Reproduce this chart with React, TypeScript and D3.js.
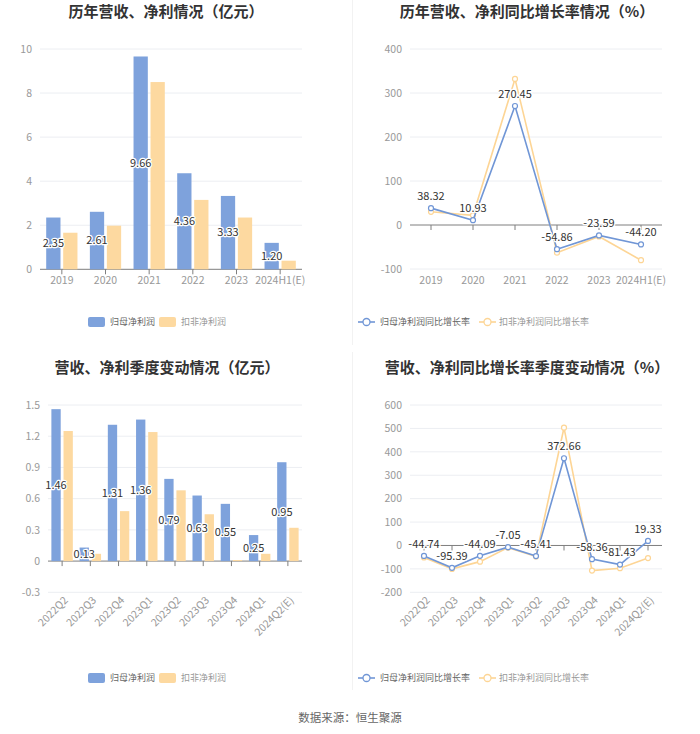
import React from "react";
import * as d3 from "d3";

const years = ["2019", "2020", "2021", "2022", "2023", "2024H1(E)"];
const yearParent = [2.35, 2.61, 9.66, 4.36, 3.33, 1.2];
const yearDeducted = [1.66, 1.98, 8.5, 3.15, 2.35, 0.39];
const yearParentGrowth = [38.32, 10.93, 270.45, -54.86, -23.59, -44.2];
const yearDeductedGrowth = [30, 22, 332, -63, -26, -80];

const quarters = ["2022Q2", "2022Q3", "2022Q4", "2023Q1", "2023Q2", "2023Q3", "2023Q4", "2024Q1", "2024Q2(E)"];
const qParent = [1.46, 0.13, 1.31, 1.36, 0.79, 0.63, 0.55, 0.25, 0.95];
const qDeducted = [1.25, 0.07, 0.48, 1.24, 0.68, 0.45, 0.01, 0.07, 0.32];
const qParentGrowth = [-44.74, -95.39, -44.09, -7.05, -45.41, 372.66, -58.36, -81.43, 19.33];
const qDeductedGrowth = [-51, -100, -69, -9, -47, 503, -107, -97, -54];

const yearTicks = [0, 2, 4, 6, 8, 10];
const yearGrowthTicks = [-100, 0, 100, 200, 300, 400];
const qTicks = [-0.3, 0, 0.3, 0.6, 0.9, 1.2, 1.5];
const qGrowthTicks = [-200, -100, 0, 100, 200, 300, 400, 500, 600];

const BLUE = "#7ea2dc";
const ORANGE = "#fdd9a0";
const BLUE_LINE = "#7096d6";
const ORANGE_LINE = "#fdd595";
const FONT = "'Noto Sans CJK SC', 'Noto Sans', sans-serif";
const fmt = (v: number) => String(+v.toFixed(1));

type Frame = {
  x0: number; x1: number; yTop: number; yBot: number;
  ticks: number[]; cats: string[]; rotate?: boolean;
};

function Axes({ f, y, x }: { f: Frame; y: d3.ScaleLinear<number, number>; x: d3.ScaleBand<string> }) {
  const zeroY = y(0);
  return (
    <g>
      {f.ticks.map((t) => (
        <g key={t}>
          {t !== 0 && <line x1={f.x0} x2={f.x1} y1={y(t)} y2={y(t)} stroke="#eceef2" />}
          <text x={f.x0 - 8} y={y(t)} dy="0.35em" textAnchor="end" fontSize={10.5} fill="#999">{fmt(t)}</text>
        </g>
      ))}
      <line x1={f.x0} x2={f.x1} y1={zeroY} y2={zeroY} stroke="#7f7f7f" />
      {f.cats.map((c) => {
        const cx = x(c)! + x.bandwidth() / 2;
        return (
          <g key={c}>
            <line x1={cx} x2={cx} y1={zeroY} y2={zeroY + 5} stroke="#7f7f7f" />
            {f.rotate ? (
              <text transform={`translate(${cx + 4},${f.yBot + 6}) rotate(-45)`} textAnchor="end" dy="0.35em" fontSize={10.5} fill="#999">{c}</text>
            ) : (
              <text x={cx} y={f.yBot + 11} dy="0.35em" textAnchor="middle" fontSize={10.5} fill="#999">{c}</text>
            )}
          </g>
        );
      })}
    </g>
  );
}

function BarPanel({ f, a, b, barRatio, gapRatio }: { f: Frame; a: number[]; b: number[]; barRatio: number; gapRatio: number }) {
  const x = d3.scaleBand<string>().domain(f.cats).range([f.x0, f.x1]);
  const y = d3.scaleLinear().domain([f.ticks[0], f.ticks[f.ticks.length - 1]]).range([f.yBot, f.yTop]);
  const bw = x.bandwidth() * barRatio;
  const gap = x.bandwidth() * gapRatio;
  return (
    <g>
      <Axes f={f} y={y} x={x} />
      {f.cats.map((c, i) => {
        const cx = x(c)! + x.bandwidth() / 2;
        const inner = d3.scaleBand<string>().domain(["a", "b"]).range([cx - bw - gap / 2, cx + bw + gap / 2]).paddingInner(gap / (bw + gap));
        const ya = y(a[i]);
        const yb = y(b[i]);
        return (
          <g key={c}>
            <rect x={inner("a")} y={ya} width={inner.bandwidth()} height={y(0) - ya} fill={BLUE} />
            <rect x={inner("b")} y={yb} width={inner.bandwidth()} height={y(0) - yb} fill={ORANGE} />
          </g>
        );
      })}
      {f.cats.map((c, i) => {
        const cx = x(c)! + x.bandwidth() / 2;
        const lx = cx - bw / 2 - gap / 2;
        return (
          <text key={c} x={lx} y={(y(a[i]) + y(0)) / 2} dy="0.35em" textAnchor="middle" fontSize={11}
            fill="#333" stroke="#fff" strokeWidth={2.5} paintOrder="stroke" strokeLinejoin="round">{a[i].toFixed(2)}</text>
        );
      })}
    </g>
  );
}

function LinePanel({ f, a, b }: { f: Frame; a: number[]; b: number[] }) {
  const x = d3.scaleBand<string>().domain(f.cats).range([f.x0, f.x1]);
  const y = d3.scaleLinear().domain([f.ticks[0], f.ticks[f.ticks.length - 1]]).range([f.yBot, f.yTop]);
  const px = (i: number) => x(f.cats[i])! + x.bandwidth() / 2;
  const line = d3.line<number>().x((_, i) => px(i)).y((d) => y(d));
  return (
    <g>
      <Axes f={f} y={y} x={x} />
      <path d={line(b) || ""} fill="none" stroke={ORANGE_LINE} strokeWidth={1.6} />
      {b.map((v, i) => <circle key={i} cx={px(i)} cy={y(v)} r={2.5} fill="#fff" stroke={ORANGE_LINE} strokeWidth={1.2} />)}
      <path d={line(a) || ""} fill="none" stroke={BLUE_LINE} strokeWidth={1.6} />
      {a.map((v, i) => <circle key={i} cx={px(i)} cy={y(v)} r={2.5} fill="#fff" stroke={BLUE_LINE} strokeWidth={1.2} />)}
      {a.map((v, i) => (
        <text key={i} x={px(i)} y={y(v) - 12} dy="0.35em" textAnchor="middle" fontSize={11}
          fill="#333" stroke="#fff" strokeWidth={2.5} paintOrder="stroke" strokeLinejoin="round">{v.toFixed(2)}</text>
      ))}
    </g>
  );
}

function BarLegend({ y }: { y: number }) {
  return (
    <g fontSize={9}>
      <rect x={88} y={y - 5} width={17} height={10} rx={2} fill={BLUE} />
      <text x={110} y={y} dy="0.35em" fill="#666">归母净利润</text>
      <rect x={159} y={y - 5} width={17} height={10} rx={2} fill={ORANGE} />
      <text x={181} y={y} dy="0.35em" fill="#999">扣非净利润</text>
    </g>
  );
}

function LineLegend({ y }: { y: number }) {
  return (
    <g fontSize={9}>
      <line x1={358} x2={375} y1={y} y2={y} stroke={BLUE_LINE} strokeWidth={1.6} />
      <circle cx={366.5} cy={y} r={3.5} fill="#fff" stroke={BLUE_LINE} strokeWidth={1.3} />
      <text x={380} y={y} dy="0.35em" fill="#666">归母净利润同比增长率</text>
      <line x1={479} x2={496} y1={y} y2={y} stroke={ORANGE_LINE} strokeWidth={1.6} />
      <circle cx={487.5} cy={y} r={3.5} fill="#fff" stroke={ORANGE_LINE} strokeWidth={1.3} />
      <text x={499} y={y} dy="0.35em" fill="#999">扣非净利润同比增长率</text>
    </g>
  );
}

export default function App() {
  const fTL: Frame = { x0: 40, x1: 302, yTop: 49, yBot: 269.3, ticks: yearTicks, cats: years };
  const fTR: Frame = { x0: 410, x1: 662, yTop: 49, yBot: 269, ticks: yearGrowthTicks, cats: years };
  const fBL: Frame = { x0: 48, x1: 302, yTop: 405, yBot: 592.3, ticks: qTicks, cats: quarters, rotate: true };
  const fBR: Frame = { x0: 410, x1: 662, yTop: 405, yBot: 592.3, ticks: qGrowthTicks, cats: quarters, rotate: true };
  return (
    <svg width={700} height={734} style={{ position: "absolute", left: 0, top: 0, background: "#fff" }} fontFamily={FONT}>
      <rect width={700} height={734} fill="#fff" />
      <line x1={352.5} x2={352.5} y1={0} y2={345} stroke="#f2f2f2" />
      <line x1={352.5} x2={352.5} y1={352} y2={690} stroke="#f2f2f2" />
      <g fontSize={15} fontWeight="bold" fill="#333" textAnchor="middle">
        <text x={166} y={12} dy="0.35em">历年营收、净利情况（亿元）</text>
        <text x={527} y={12} dy="0.35em">历年营收、净利同比增长率情况（%）</text>
        <text x={167} y={368} dy="0.35em">营收、净利季度变动情况（亿元）</text>
        <text x={527} y={368} dy="0.35em">营收、净利同比增长率季度变动情况（%）</text>
      </g>
      <BarPanel f={fTL} a={yearParent} b={yearDeducted} barRatio={0.327} gapRatio={0.062} />
      <LinePanel f={fTR} a={yearParentGrowth} b={yearDeductedGrowth} />
      <BarPanel f={fBL} a={qParent} b={qDeducted} barRatio={0.33} gapRatio={0.1} />
      <LinePanel f={fBR} a={qParentGrowth} b={qDeductedGrowth} />
      <BarLegend y={322} />
      <LineLegend y={322} />
      <BarLegend y={678} />
      <LineLegend y={678} />
      <text x={350} y={718} dy="0.35em" textAnchor="middle" fontSize={11.5} fill="#666">数据来源：恒生聚源</text>
    </svg>
  );
}
